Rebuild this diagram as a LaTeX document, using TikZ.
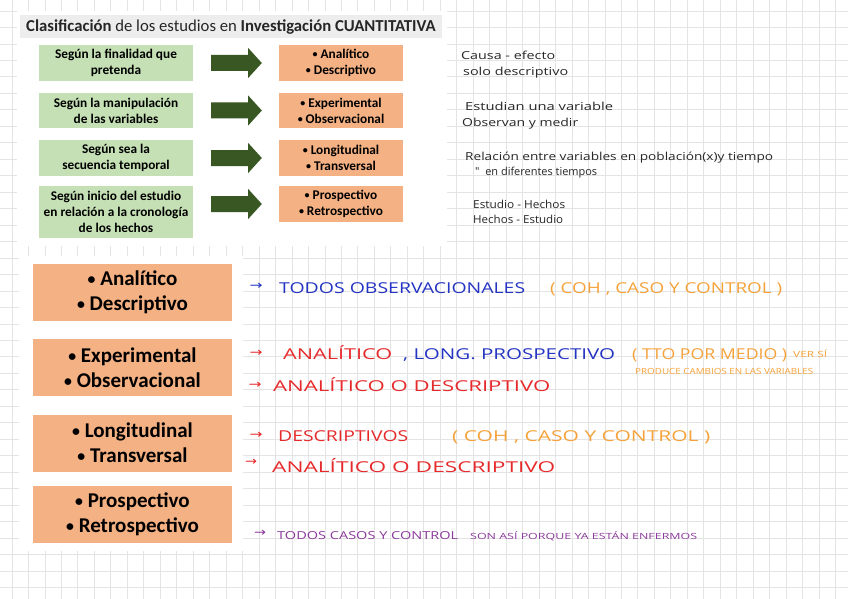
\documentclass[tikz,border=0pt]{standalone}
\usepackage{fontspec}
\usepackage{graphicx}
\setmainfont{Carlito}
\newfontfamily\handfont{Open Sans}
\newfontfamily\symfont{DejaVu Sans}
\usetikzlibrary{calc}
\definecolor{gridgray}{HTML}{E4E4E4}
\definecolor{titlebg}{HTML}{EDEDED}
\definecolor{boxgreen}{HTML}{C5E0B4}
\definecolor{boxorange}{HTML}{F4B183}
\definecolor{arrowgreen}{HTML}{385723}
\definecolor{inkblue}{HTML}{2434C2}
\definecolor{inkred}{HTML}{E62A2C}
\definecolor{inkorange}{HTML}{F6A23A}
\definecolor{inkpurple}{HTML}{8C3A9C}
\definecolor{inkblack}{HTML}{262626}
\newcommand{\hw}[2]{\resizebox{#1pt}{\height}{#2}}
\newcommand{\bul}{\raisebox{0.06em}{\scalebox{0.75}{•}}}
\tikzset{
  gridline/.style={draw=gridgray, line width=0.8pt},
  greenbox/.style={fill=boxgreen, inner sep=0pt, minimum width=154pt, align=center,
    font=\fontsize{13.3}{16}\selectfont\bfseries, text=black},
  smallorange/.style={fill=boxorange, inner sep=0pt, minimum width=124pt, align=center,
    font=\fontsize{13.3}{16}\selectfont\bfseries, text=black},
  bigorange/.style={fill=boxorange, inner sep=0pt, minimum width=199pt, minimum height=57pt, align=center,
    font=\fontsize{21}{25}\selectfont\bfseries, text=black},
  blockarrow/.style={fill=arrowgreen},
  note/.style={anchor=base west, inner sep=0pt, font=\handfont\fontsize{11}{13}\selectfont, text=inkblack},
  bignote/.style={anchor=base west, inner sep=0pt, font=\handfont\fontsize{15}{17}\selectfont},
  tinynote/.style={anchor=base west, inner sep=0pt, font=\handfont\fontsize{8.5}{10}\selectfont},
  midnote/.style={anchor=base west, inner sep=0pt, font=\handfont\fontsize{11}{13}\selectfont},
  inkarrow/.style={anchor=center, inner sep=0pt, font=\symfont\fontsize{12}{12}\selectfont},
}
\begin{document}
\begin{tikzpicture}[x=1pt,y=-1pt]
\useasboundingbox (0,0) rectangle (848,599);
\fill[white] (0,0) rectangle (848,599);
% grid paper
\foreach \i in {0,...,50} \draw[gridline] ({12+16.47*\i},0) -- ({12+16.47*\i},599);
\foreach \j in {0,...,35} \draw[gridline] (0,{11+16.47*\j}) -- (848,{11+16.47*\j});
% pasted screenshots
\fill[white] (17,11) rectangle (447,246);
\fill[white] (19,256) rectangle (243,551);

% ---------- top table ----------
\fill[titlebg] (20,15) rectangle (442,38);
\node[anchor=base west, inner sep=0pt, font=\fontsize{16.7}{19}\selectfont, text=inkblack] (title) at (26,32)
  {\textbf{Clasificación} de los estudios en \textbf{Investigación CUANTITATIVA}};

\node[greenbox, minimum height=36pt] (g1) at (116,63) {Según la finalidad que\\pretenda};
\node[greenbox, minimum height=35pt] (g2) at (116,110.5) {Según la manipulación\\de las variables};
\node[greenbox, minimum height=36pt] (g3) at (116,158) {Según sea la\\secuencia temporal};
\node[greenbox, minimum height=52pt] (g4) at (116,212) {Según inicio del estudio\\en relación a la cronología\\de los hechos};

\node[smallorange, minimum height=36pt] (o1) at (341,63) {\bul{} Analítico\\\bul{} Descriptivo};
\node[smallorange, minimum height=35pt] (o2) at (341,110.5) {\bul{} Experimental\\\bul{} Observacional};
\node[smallorange, minimum height=36pt] (o3) at (341,158) {\bul{} Longitudinal\\\bul{} Transversal};
\node[smallorange, minimum height=36pt] (o4) at (341,204) {\bul{} Prospectivo\\\bul{} Retrospectivo};

\foreach \k in {1,2,3,4}{
  \fill[blockarrow] ($(g\k.east |- o\k.west)+(18,-8)$) -- ($(g\k.east |- o\k.west)+(55,-8)$)
    -- ($(g\k.east |- o\k.west)+(55,-15)$) -- ($(o\k.west)+(-17,0)$)
    -- ($(g\k.east |- o\k.west)+(55,15)$) -- ($(g\k.east |- o\k.west)+(55,8)$)
    -- ($(g\k.east |- o\k.west)+(18,8)$) -- cycle;
}

% handwritten notes, top right
\node[note] (t1) at (461,60) {\hw{94}{Causa - efecto}};
\node[note] (t2) at (463,76) {\hw{105}{solo descriptivo}};
\node[note] (t3) at (465,111) {\hw{148}{Estudian una variable}};
\node[note] (t4) at (462,126) {\hw{116}{Observan y medir}};
\node[note] (t5) at (465,160) {\hw{308}{Relación entre variables en población(x)y tiempo}};
\node[note] (t6) at (475,175) {\hw{122}{"\ \ en diferentes tiempos}};
\node[note] (t7) at (473,208) {\hw{92}{Estudio - Hechos}};
\node[note] (t8) at (473,223) {\hw{90}{Hechos - Estudio}};

% ---------- bottom boxes ----------
\node[bigorange] (b1) at (132.5,292.5) {\bul{} Analítico\\\bul{} Descriptivo};
\node[bigorange] (b2) at (132.5,367.5) {\bul{} Experimental\\\bul{} Observacional};
\node[bigorange] (b3) at (132.5,443) {\bul{} Longitudinal\\\bul{} Transversal};
\node[bigorange] (b4) at (132.5,514.5) {\bul{} Prospectivo\\\bul{} Retrospectivo};

% handwritten notes, bottom
\node[inkarrow, text=inkblue] (a1) at (256,286) {\hw{13}{→}};
\node[bignote, text=inkblue] (n1) at (279,293) {\hw{246}{TODOS OBSERVACIONALES}};
\node[bignote, text=inkorange] (n2) at (550,293) {\hw{232}{( COH , CASO Y CONTROL )}};

\node[inkarrow, text=inkred] (a2) at (256,353) {\hw{13}{→}};
\node[bignote, text=inkred] (n3) at (283,359) {\hw{109}{ANALÍTICO}};
\node[bignote, text=inkblue] (n4) at (403,359) {\hw{212}{, LONG. PROSPECTIVO}};
\node[bignote, text=inkorange] (n5) at (632,359) {\hw{155}{( TTO POR MEDIO )}};
\node[tinynote, text=inkorange] (n6) at (793,357) {\hw{34}{VER SÍ}};
\node[tinynote, text=inkorange] (n7) at (635,374) {\hw{178}{PRODUCE CAMBIOS EN LAS VARIABLES}};

\node[inkarrow, text=inkred] (a3) at (255,385) {\hw{13}{→}};
\node[bignote, text=inkred] (n8) at (273,391) {\hw{277}{ANALÍTICO O DESCRIPTIVO}};

\node[inkarrow, text=inkred] (a4) at (256,435) {\hw{13}{→}};
\node[bignote, text=inkred] (n9) at (278,441) {\hw{130}{DESCRIPTIVOS}};
\node[bignote, text=inkorange] (n10) at (452,441) {\hw{258}{( COH , CASO Y CONTROL )}};

\node[inkarrow, text=inkred] (a5) at (251,462) {\hw{12}{→}};
\node[bignote, text=inkred] (n11) at (272,472) {\hw{283}{ANALÍTICO O DESCRIPTIVO}};

\node[inkarrow, text=inkpurple] (a6) at (260,533) {\hw{12}{→}};
\node[midnote, text=inkpurple] (n12) at (277,539) {\hw{181}{TODOS CASOS Y CONTROL}};
\node[tinynote, text=inkpurple] (n13) at (470,539) {\hw{227}{SON ASÍ PORQUE YA ESTÁN ENFERMOS}};
\end{tikzpicture}
\end{document}
